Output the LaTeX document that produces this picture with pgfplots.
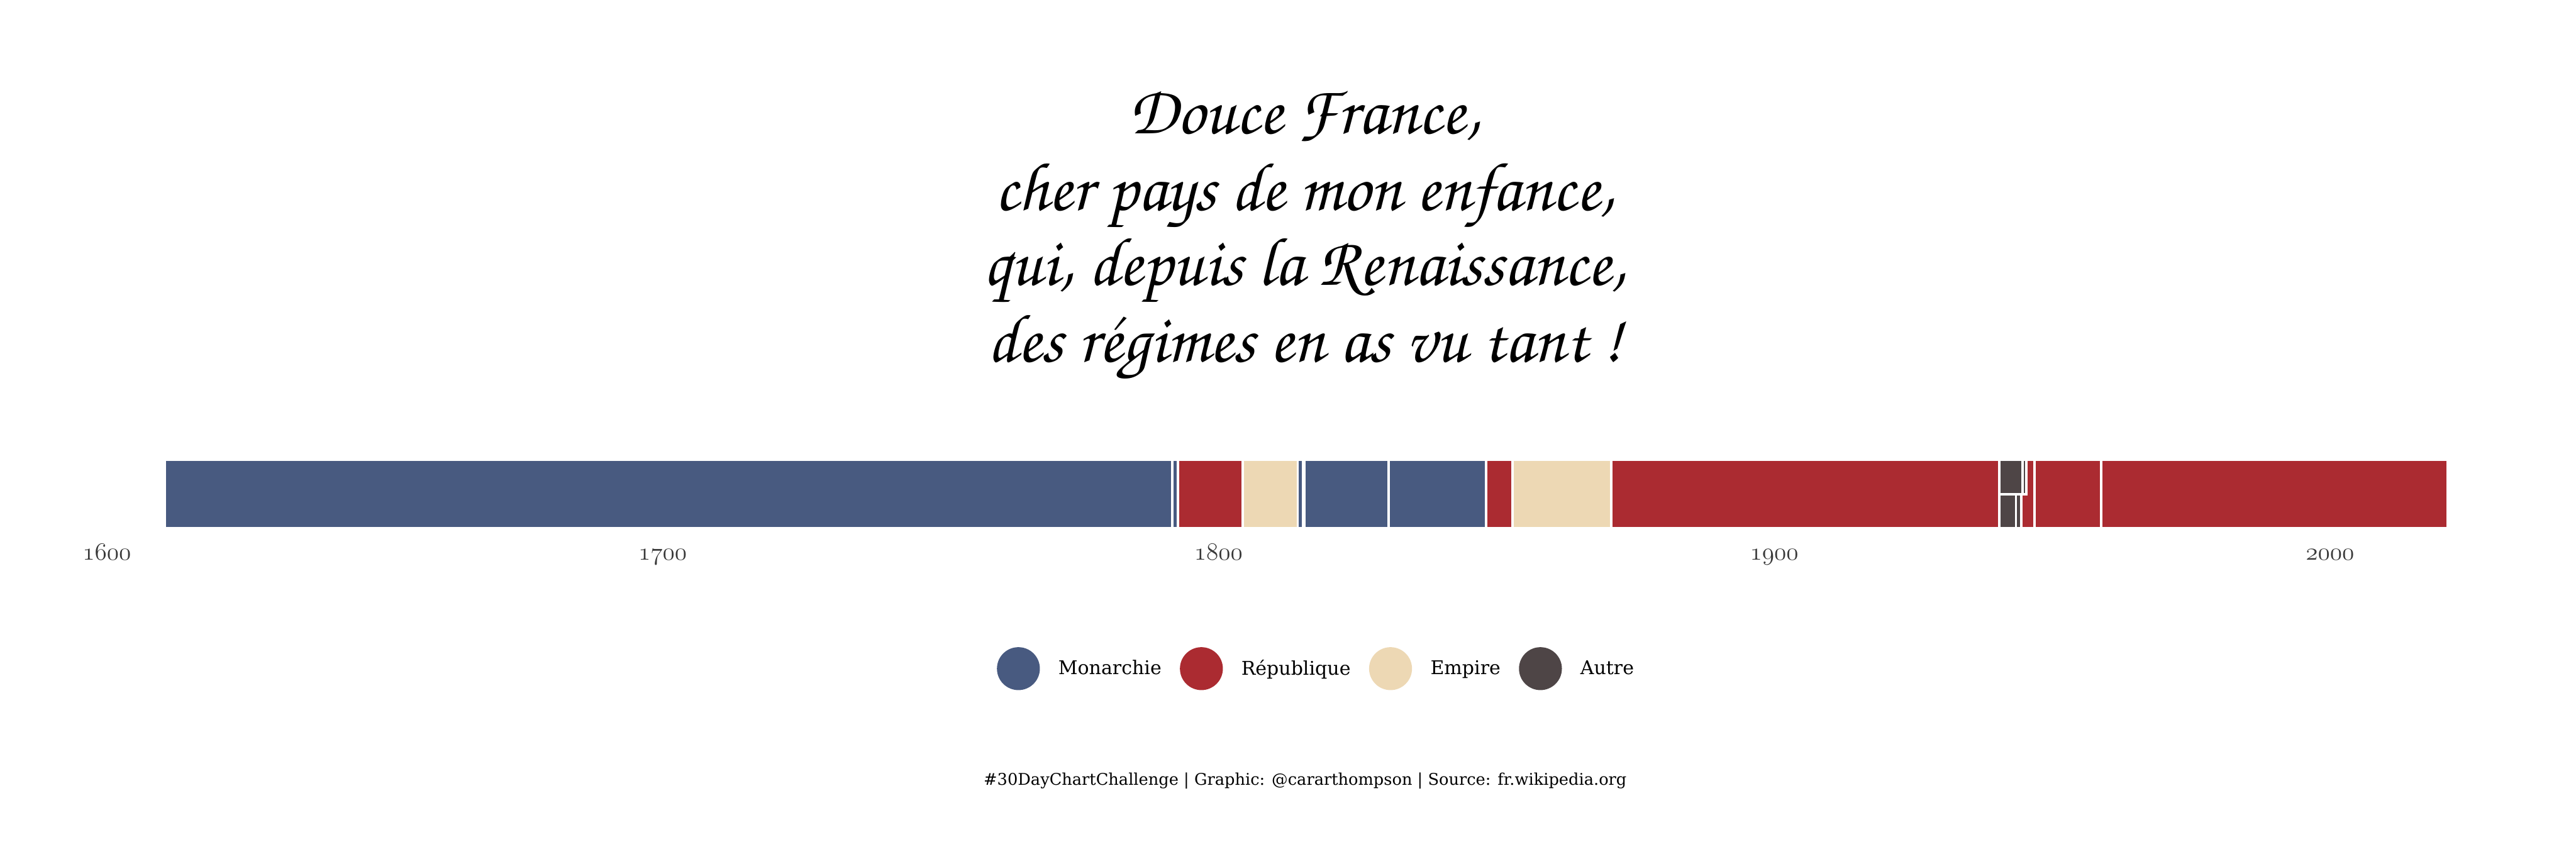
\documentclass[border=0pt]{standalone}
\usepackage[T1,TU]{fontenc}
\usepackage{fontspec}
\setmainfont{DejaVu Serif}
\usepackage{pgfplots}
\pgfplotsset{compat=1.18}
\definecolor{mon}{RGB}{72,90,128}
\definecolor{rep}{RGB}{171,43,49}
\definecolor{emp}{RGB}{237,216,180}
\definecolor{aut}{RGB}{78,69,70}
\newcommand{\titlefont}{\fontencoding{T1}\fontfamily{pzc}\fontseries{mb}\fontshape{it}\fontsize{40}{48}\selectfont}
\begin{document}
\begin{tikzpicture}
\useasboundingbox (0,0) rectangle (1500pt,500pt);
\begin{axis}[
  at={(62.25pt,192.375pt)}, anchor=south west,
  x=3.23625pt, y=39.75pt,
  xmin=1600, xmax=2030, ymin=0, ymax=1,
  clip=false,
  axis line style={draw=none},
  tick style={draw=none},
  ytick=\empty,
  xtick={1600,1700,1800,1900,2000},
  xticklabels={$\mathnormal{1600}$,$\mathnormal{1700}$,$\mathnormal{1800}$,$\mathnormal{1900}$,$\mathnormal{2000}$},
  xticklabel style={anchor=base, yshift=-18.4pt, font=\fontsize{14}{16}\selectfont, text=black!78},
  legend image code/.code={\fill[#1, draw=none] (12.5pt,0pt) circle[radius=12.5pt];},
  legend columns=4,
  legend style={draw=none, fill=none, at={(0.5057,-2.057)}, anchor=center,
    font=\fontsize{11}{13}\selectfont, nodes={inner sep=0pt},
    column sep=10.75pt},
  legend cell align=left,
  rect/.style={draw=white, line width=1.4pt, forget plot},
]
\addlegendimage{fill=mon}\addlegendentry{Monarchie}
\addlegendimage{fill=rep}\addlegendentry{République}
\addlegendimage{fill=emp}\addlegendentry{Empire}
\addlegendimage{fill=aut}\addlegendentry{Autre}
% Monarchie
\addplot[rect, fill=mon] coordinates {(1610.37,0) (1791.70,0) (1791.70,1) (1610.37,1)} -- cycle;
\addplot[rect, fill=mon] coordinates {(1791.70,0) (1792.72,0) (1792.72,1) (1791.70,1)} -- cycle;
\addplot[rect, fill=mon] coordinates {(1814.26,0) (1815.22,0) (1815.22,1) (1814.26,1)} -- cycle;
\addplot[rect, fill=mon] coordinates {(1815.52,0) (1830.58,0) (1830.58,1) (1815.52,1)} -- cycle;
\addplot[rect, fill=mon] coordinates {(1830.58,0) (1848.15,0) (1848.15,1) (1830.58,1)} -- cycle;
% République
\addplot[rect, fill=rep] coordinates {(1792.72,0) (1804.38,0) (1804.38,1) (1792.72,1)} -- cycle;
\addplot[rect, fill=rep] coordinates {(1848.15,0) (1852.92,0) (1852.92,1) (1848.15,1)} -- cycle;
\addplot[rect, fill=rep] coordinates {(1870.68,0) (1940.52,0) (1940.52,1) (1870.68,1)} -- cycle;
\addplot[rect, fill=rep] coordinates {(1944.49,0) (1946.85,0) (1946.85,1) (1944.49,1)} -- cycle;
\addplot[rect, fill=rep] coordinates {(1946.85,0) (1958.78,0) (1958.78,1) (1946.85,1)} -- cycle;
\addplot[rect, fill=rep] coordinates {(1958.78,0) (2021.15,0) (2021.15,1) (1958.78,1)} -- cycle;
% Empire
\addplot[rect, fill=emp] coordinates {(1804.38,0) (1814.26,0) (1814.26,1) (1804.38,1)} -- cycle;
\addplot[rect, fill=emp] coordinates {(1815.22,0) (1815.52,0) (1815.52,1) (1815.22,1)} -- cycle;
\addplot[rect, fill=emp] coordinates {(1852.92,0) (1870.68,0) (1870.68,1) (1852.92,1)} -- cycle;
% Autre (bottom half)
\addplot[rect, fill=aut] coordinates {(1940.48,0) (1943.49,0) (1943.49,0.5) (1940.48,0.5)} -- cycle;
\addplot[rect, fill=aut] coordinates {(1943.49,0) (1944.49,0) (1944.49,0.5) (1943.49,0.5)} -- cycle;
% Autre (top half)
\addplot[rect, fill=aut] coordinates {(1940.52,0.5) (1944.67,0.5) (1944.67,1) (1940.52,1)} -- cycle;
\addplot[rect, fill=aut] coordinates {(1944.67,0.5) (1945.33,0.5) (1945.33,1) (1944.67,1)} -- cycle;
\end{axis}
\node[anchor=base, font=\titlefont] at (759.75pt,422.25pt) {Douce France,};
\node[anchor=base, font=\titlefont] at (759.75pt,377.5pt) {cher pays de mon enfance,};
\node[anchor=base, font=\titlefont] at (759.75pt,334pt) {qui, depuis la Renaissance,};
\node[anchor=base, font=\titlefont] at (759.75pt,289.25pt) {des r\'egimes en as vu tant~!};
\node[anchor=base, font=\fontsize{9.4}{11}\selectfont] at (760pt,42.75pt) {\#30DayChartChallenge | Graphic: @cararthompson | Source: fr.wikipedia.org};
\end{tikzpicture}
\end{document}
